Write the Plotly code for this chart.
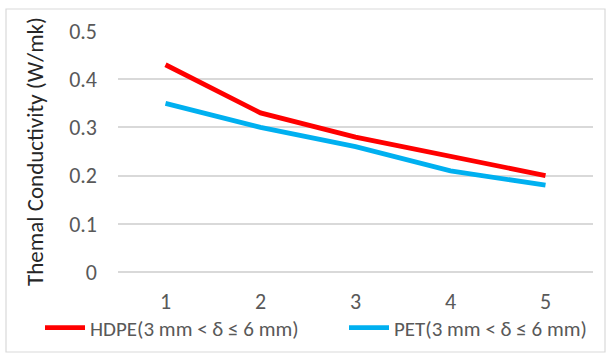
import plotly.graph_objects as go

categories = ["1", "2", "3", "4", "5"]
hdpe = [0.43, 0.33, 0.28, 0.24, 0.20]
pet = [0.35, 0.30, 0.26, 0.21, 0.18]
y_ticks = [0, 0.1, 0.2, 0.3, 0.4, 0.5]
y_ticktext = ["0", "0.1", "0.2", "0.3", "0.4", "0.5"]

FONT = "Carlito, Lato, sans-serif"
GRID = "#D9D9D9"
TXT = "#595959"

fig = go.Figure()
fig.add_trace(go.Scatter(x=categories, y=hdpe, mode="lines",
                         name="HDPE(3 mm < δ ≤ 6 mm)", legend="legend",
                         line=dict(color="#FF0000", width=4.8)))
fig.add_trace(go.Scatter(x=categories, y=pet, mode="lines",
                         name="PET(3 mm < δ ≤ 6 mm)", legend="legend2",
                         line=dict(color="#00B0F0", width=4.8)))

L, R, T, B = 118, 13, 31, 81
W, H = 606, 353
pw, ph = W - L - R, H - T - B

leg_common = dict(orientation="h", xanchor="left",
                  y=(272 - 328) / ph, yanchor="middle",
                  font=dict(size=21, color=TXT, family=FONT),
                  itemwidth=40, bgcolor="rgba(0,0,0,0)")

fig.update_layout(
    width=W, height=H,
    margin=dict(l=L, r=R, t=T, b=B, autoexpand=False),
    paper_bgcolor="white", plot_bgcolor="white",
    font=dict(family=FONT, size=22, color=TXT),
    showlegend=True,
    legend=dict(x=(40 - L) / pw, **leg_common),
    legend2=dict(x=(344 - L) / pw, **leg_common),
    xaxis=dict(type="category", range=[-0.5, 4.5], showgrid=False,
               showline=False, zeroline=False, ticks="",
               ticklabelstandoff=14,
               tickfont=dict(size=22, color=TXT, family=FONT)),
    yaxis=dict(range=[0, 0.5], tickvals=y_ticks, ticktext=y_ticktext,
               showgrid=True, gridcolor=GRID, gridwidth=1.5,
               zeroline=True, zerolinecolor=GRID, zerolinewidth=1.5,
               showline=False, ticks="", ticklabelstandoff=20,
               tickfont=dict(size=22, color=TXT, family=FONT),
               title=dict(text="Themal Conductivity (W/mk)", standoff=19,
                          font=dict(size=23, color="#262626", family=FONT))),
    shapes=[dict(type="rect", xref="paper", yref="paper",
                 x0=(6 - L) / pw, x1=(605 - L) / pw,
                 y0=(272 - 352) / ph, y1=(272 - 9) / ph,
                 line=dict(color=GRID, width=1.2), layer="below")],
)

fig.write_html("out.html")
